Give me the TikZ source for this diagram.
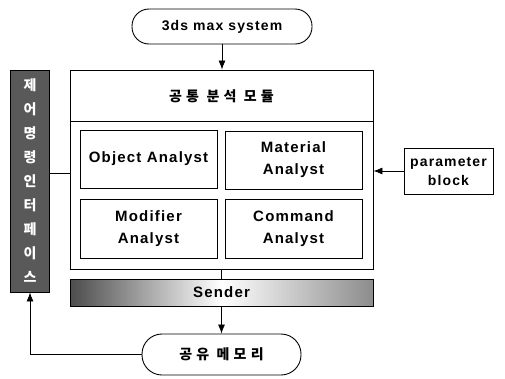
\documentclass[tikz,border=0pt]{standalone}
\usepackage{fontspec}
\setmainfont{Liberation Sans}[LetterSpace=8]
\newfontfamily\krfont{Noto Sans CJK KR}[LetterSpace=30]
\usetikzlibrary{arrows.meta}

\tikzset{
  box/.style={draw, line width=0.9pt, inner sep=0pt, align=center,
    font=\fontsize{15}{22}\selectfont\bfseries},
  pill/.style={box, rounded corners=17pt},
  arr/.style={-{Latex[length=9pt,width=7pt]}, line width=0.8pt},
  link/.style={line width=0.8pt},
  kr/.style={font=\krfont\fontsize{14}{21}\selectfont\bfseries},
}

\begin{document}
\begin{tikzpicture}[x=1pt,y=-1pt]
            \useasboundingbox (0,0) rectangle (505,378);

            \node[pill, font=\fontsize{14}{14}\selectfont\bfseries, minimum width=180pt, minimum height=35pt] (sys) at (222,26.5) {3ds max system};

            \node[box, minimum width=303pt, minimum height=199pt] (core) at (221.5,169.5) {};
            \coordinate (div) at (0,121);
            \draw[link] (core.west |- div) -- (core.east |- div);
            \node[kr] (title) at (221.5,96) {공통 분석 모듈};

            \node[box, minimum width=137pt, minimum height=58pt] (obj) at (148.5,159) {Object Analyst};
            \node[box, minimum width=137pt, minimum height=58pt] (mat) at (293.5,160) {Material\\Analyst};
            \node[box, minimum width=137pt, minimum height=59pt] (mod) at (148.5,228.5) {Modifier\\Analyst};
            \node[box, minimum width=137pt, minimum height=59pt] (cmd) at (293.5,228.5) {Command\\Analyst};

            \node[box, font=\fontsize{14}{19}\selectfont\bfseries, minimum width=89pt, minimum height=46pt] (param) at (448.5,171) {parameter\\block};
            \node[box, kr, font=\krfont\fontsize{14}{24}\selectfont\bfseries, fill=black!65, text=white, minimum width=39pt, minimum height=222pt] (iface) at (30,181) {제\\어\\명\\령\\인\\터\\페\\이\\스};
            \node[box, left color=black!70, right color=black!45, middle color=white, minimum width=303pt, minimum height=27pt] (send) at (221.5,292.5) {Sender};
            \node[pill, kr, rounded corners=20pt, minimum width=159pt, minimum height=41pt] (mem) at (221.5,354.5) {공유 메모리};

            \coordinate (tap) at (0,173);
            \draw[arr] (sys.south) -- (sys.south |- core.north);
            \draw[arr] (param.west) -- (param.west -| core.east);
            \draw[link] (iface.east |- tap) -- (core.west |- tap);
            \draw[link] (core.south) -- (send.north);
            \draw[arr] (send.south) -- (mem.north);
            \draw[arr] (mem.west) -| (iface.south);

        \end{tikzpicture}
\end{document}
